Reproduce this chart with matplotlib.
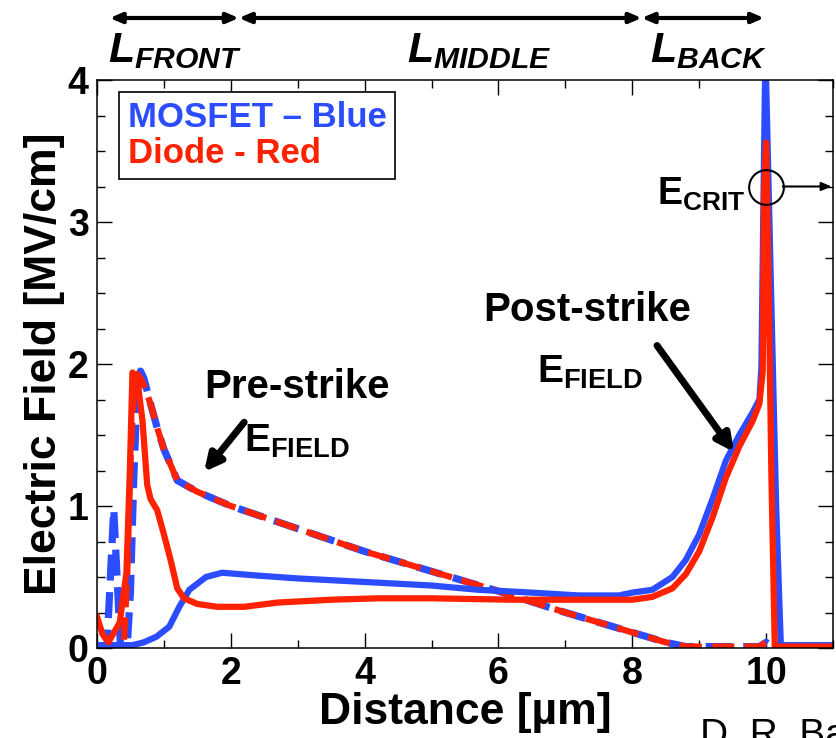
import matplotlib
matplotlib.use("Agg")
import matplotlib.pyplot as plt
import matplotlib.transforms as mtrans
from matplotlib.ticker import MultipleLocator

plt.rcParams['font.family'] = ['Liberation Sans', 'DejaVu Sans']
plt.rcParams['font.weight'] = 'bold'
plt.rcParams['mathtext.fontset'] = 'custom'
plt.rcParams['mathtext.rm'] = 'Liberation Sans:bold'
plt.rcParams['mathtext.it'] = 'Liberation Sans:bold:italic'
plt.rcParams['mathtext.bf'] = 'Liberation Sans:bold'

BLUE = '#2b4cff'
RED = '#ff2200'

# ---- data (distance in um, field in MV/cm) ----
pre_blue_x = [0, 0.15, 0.2, 0.25, 0.3, 0.35, 0.45, 0.5, 0.55, 0.6, 0.65, 0.7, 0.8, 0.9, 1.0,
              1.2, 1.5, 2, 3, 4, 5, 6, 7, 8, 8.5, 8.8, 9.5, 9.9, 10.0, 10.1, 11]
pre_blue_y = [0, 0.02, 0.5, 0.98, 0.5, 0.02, 0.0, 0.4, 1.2, 1.8, 1.95, 1.9, 1.72, 1.55, 1.4,
              1.18, 1.1, 1.0, 0.84, 0.68, 0.54, 0.40, 0.25, 0.11, 0.04, 0.01, 0.01, 0.01, 0.04, 0.01, 0.01]

pre_red_x = [0, 0.2, 0.4, 0.45, 0.5, 0.55, 0.6, 0.65, 0.7, 0.8, 0.9, 1.0,
             1.2, 1.5, 2, 3, 4, 5, 6, 7, 8, 8.5, 8.8, 9.5, 9.9, 10.0, 10.1, 11]
pre_red_y = [0, 0.0, 0.02, 0.5, 1.3, 1.85, 1.93, 1.9, 1.85, 1.72, 1.55, 1.4,
             1.18, 1.1, 1.0, 0.84, 0.68, 0.54, 0.40, 0.25, 0.11, 0.04, 0.01, 0.01, 0.01, 0.04, 0.01, 0.01]

post_blue_x = [0, 0.3, 0.53, 0.7, 0.89, 1.08, 1.23, 1.38, 1.63, 1.87, 2.4, 3.0, 4.2, 5.0, 5.7,
               6.5, 7.2, 7.8, 8.0, 8.3, 8.6, 8.8, 9.0, 9.2, 9.4, 9.6, 9.8, 9.9, 9.93, 9.97,
               9.99, 10.05, 10.15, 10.22, 11]
post_blue_y = [0.02, 0.02, 0.02, 0.04, 0.08, 0.15, 0.29, 0.41, 0.50, 0.53, 0.51, 0.49, 0.46, 0.44, 0.41,
               0.39, 0.37, 0.37, 0.39, 0.41, 0.50, 0.62, 0.80, 1.05, 1.32, 1.50, 1.66, 1.75, 1.98, 3.5,
               4.2, 3.0, 1.0, 0.02, 0.02]

post_red_x = [0, 0.08, 0.17, 0.34, 0.44, 0.49, 0.53, 0.6, 0.68, 0.75, 0.8, 0.9, 1.0, 1.1, 1.2,
              1.3, 1.5, 1.8, 2.2, 2.7, 3.5, 4.2, 5.0, 6.2, 7.0, 8.0, 8.3, 8.6, 8.8, 9.0, 9.2,
              9.4, 9.6, 9.8, 9.9, 9.95, 9.97, 10.0, 10.03, 10.08, 10.13, 11]
post_red_y = [0.22, 0.1, 0.04, 0.18, 0.53, 1.23, 1.94, 1.9, 1.6, 1.15, 1.05, 0.97, 0.80, 0.62, 0.42,
              0.35, 0.31, 0.29, 0.29, 0.32, 0.34, 0.35, 0.35, 0.34, 0.34, 0.34, 0.36, 0.42, 0.52, 0.68, 0.92,
              1.20, 1.42, 1.60, 1.72, 1.95, 3.2, 3.56, 2.8, 1.2, 0.01, 0.01]

xticks = [0, 2, 4, 6, 8, 10]
yticks = [0, 1, 2, 3, 4]

fig = plt.figure(figsize=(8.36, 7.38), dpi=100)
ax = fig.add_axes([97/836, 1 - 648/738, 736/836, 568/738])

lw = 4.5
dash = (3.6, 1.6)
ax.plot(pre_blue_x, pre_blue_y, color=BLUE, lw=lw + 0.7, dashes=dash)
ax.plot(pre_red_x, pre_red_y, color=RED, lw=lw, dashes=dash)
lb, = ax.plot(post_blue_x, post_blue_y, color=BLUE, lw=lw)
lr, = ax.plot(post_red_x, post_red_y, color=RED, lw=lw)

ax.set_xlim(0, 11)
ax.set_ylim(0, 4)
ax.set_xticks(xticks)
ax.set_yticks(yticks)
ax.xaxis.set_minor_locator(MultipleLocator(1))
ax.yaxis.set_minor_locator(MultipleLocator(0.25))
ax.tick_params(which='both', direction='in', top=True, right=True, width=1.0)
ax.tick_params(which='major', length=11, labelsize=27, pad=6)
ax.tick_params(which='minor', length=6)
for lab in ax.get_xticklabels() + ax.get_yticklabels():
    lab.set_fontweight('bold')
for s in ax.spines.values():
    s.set_linewidth(1.1)

ax.set_xlabel('Distance [µm]', fontsize=32, fontweight='bold', labelpad=0)
ax.set_ylabel('Electric Field [MV/cm]', fontsize=32, fontweight='bold', labelpad=2)

leg = ax.legend(handles=[lb, lr], labels=['MOSFET – Blue', 'Diode - Red'],
                loc='upper left', bbox_to_anchor=(0.03, 0.979), borderaxespad=0,
                handlelength=0, handletextpad=0, fancybox=False, framealpha=1,
                edgecolor='black', labelcolor='linecolor',
                prop={'family': 'Liberation Sans', 'weight': 'bold', 'size': 25},
                borderpad=0.25, labelspacing=0.1)
leg.get_frame().set_linewidth(1.2)

arrow_big = dict(arrowstyle='-|>,head_length=1.0,head_width=0.5', lw=5, color='black',
                 shrinkA=0, shrinkB=0)

# annotations
ax.text(1.60, 1.76, 'Pre-strike', fontsize=29, fontweight='bold', ha='left', va='baseline')
ax.text(2.2, 1.38, r'$\mathrm{E}_{\mathrm{FIELD}}$', fontsize=28, ha='left', va='baseline')
ax.annotate('', xy=(1.6, 1.24), xytext=(2.2, 1.59), arrowprops=arrow_big)

ax.text(5.77, 2.30, 'Post-strike', fontsize=29, fontweight='bold', ha='left', va='baseline')
ax.text(6.58, 1.87, r'$\mathrm{E}_{\mathrm{FIELD}}$', fontsize=28, ha='left', va='baseline')
ax.annotate('', xy=(9.52, 1.38), xytext=(8.37, 2.13), arrowprops=arrow_big)

ax.text(8.37, 3.12, r'$\mathrm{E}_{\mathrm{CRIT}}$', fontsize=27, ha='left', va='baseline')
ax.plot([10.0], [3.25], 'o', ms=25, mfc='none', mec='black', mew=1.5)
ax.annotate('', xy=(10.98, 3.25), xytext=(10.25, 3.25),
            arrowprops=dict(arrowstyle='-|>,head_length=0.6,head_width=0.25', lw=1.5, color='black',
                            shrinkA=0, shrinkB=0), annotation_clip=False)

# top region arrows
ytop = 1 - 18/738
bounds = [0.19, 2.12, 8.14, 9.97]
for a, b in zip(bounds[:-1], bounds[1:]):
    ax.annotate('', xy=(b, ytop), xytext=(a, ytop),
                xycoords=('data', 'figure fraction'), textcoords=('data', 'figure fraction'),
                arrowprops=dict(arrowstyle='<|-|>,head_length=0.7,head_width=0.3', lw=3, color='black',
                                shrinkA=0, shrinkB=0), annotation_clip=False)
ylab = 1 - 62/738
blend = mtrans.blended_transform_factory(ax.transData, fig.transFigure)
for xc, name in [(1.16, 'FRONT'), (5.71, 'MIDDLE'), (9.14, 'BACK')]:
    ax.text(xc, ylab, r'$\mathit{L}_{\mathit{' + name + '}}$', fontsize=31,
            ha='center', va='baseline', transform=blend)

fig.text(700/836, -8/738, 'D. R. Ball', fontsize=28, fontweight='normal', ha='left', va='baseline')

fig.savefig('out.png', dpi=100)
